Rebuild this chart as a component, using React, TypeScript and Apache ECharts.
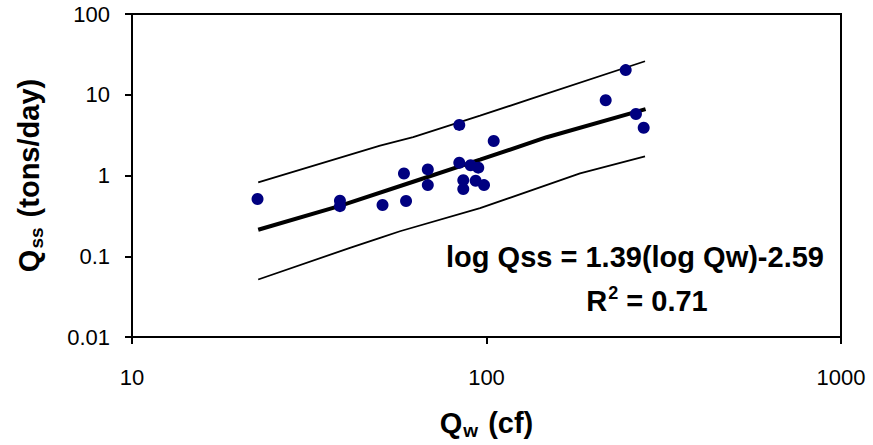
import React, { useEffect, useRef } from "react";
import * as echarts from "echarts";

// Observed data (Qw in cf, Qss in tons/day)
const qw = [22.6, 38.6, 38.6, 50.9, 58.5, 59.3, 68.3, 68.3, 83.8, 83.8, 86.0, 86.0, 90.2, 94.8, 93.2, 98.4, 104.8, 216.9, 247, 264, 277.6];
const qss = [0.512, 0.487, 0.417, 0.432, 1.06, 0.484, 1.19, 0.76, 4.23, 1.44, 0.876, 0.679, 1.34, 1.25, 0.861, 0.76, 2.67, 8.56, 20.2, 5.77, 3.91];

// Fitted line
const fitQw = [22.7, 38.6, 62.1, 95.9, 147.9, 281];
const fitQss = [0.213, 0.42, 0.837, 1.57, 2.98, 6.64];

// Upper bound
const upQw = [22.7, 50.1, 62.1, 95.9, 132.7, 280];
const upQss = [0.82, 2.35, 2.98, 5.5, 8.81, 26.0];

// Lower bound
const loQw = [22.7, 41.2, 50.1, 57.0, 95.9, 183.6, 280];
const loQss = [0.0515, 0.127, 0.169, 0.204, 0.394, 1.06, 1.73];

const xTickLabels = ["10", "100", "1000"];
const yTickLabels = ["0.01", "0.1", "1", "10", "100"];

const FONT = "'Liberation Sans', Arial, sans-serif";

export default function App() {
  const ref = useRef<HTMLDivElement>(null);
  useEffect(() => {
    if (!ref.current) return;
    const chart = echarts.init(ref.current, undefined, { renderer: "svg" });
    const zip = (a: number[], b: number[]) => a.map((v, i) => [v, b[i]]);
    const titleRich = {
      a: { fontFamily: FONT, fontSize: 29, fontWeight: "bold", color: "#000", lineHeight: 34 },
      b: { fontFamily: FONT, fontSize: 19, fontWeight: "bold", color: "#000", verticalAlign: "bottom", padding: [0, 2, 0, 1] },
    };
    chart.setOption({
      animation: false,
      backgroundColor: "#fff",
      grid: {
        left: 132,
        right: 32,
        top: 14,
        bottom: 105,
        show: true,
        borderColor: "#000",
        borderWidth: 2,
      },
      xAxis: {
        type: "log",
        logBase: 10,
        min: 10,
        max: 1000,
        name: "{a|Q}{b|w}{a| (cf)}",
        nameLocation: "middle",
        nameGap: 69,
        nameTextStyle: { rich: titleRich },
        axisLine: { show: true, lineStyle: { color: "#000", width: 2 } },
        axisTick: { show: true, length: 7, lineStyle: { color: "#000", width: 2 } },
        axisLabel: {
          margin: 29,
          fontFamily: FONT,
          fontSize: 22,
          color: "#000",
          formatter: (v: number) => xTickLabels[Math.round(Math.log10(v)) - 1] ?? "",
        },
        splitLine: { show: false },
        minorTick: { show: false },
      },
      yAxis: {
        type: "log",
        logBase: 10,
        min: 0.01,
        max: 100,
        name: "{a|Q}{b|ss}{a| (tons/day)}",
        nameLocation: "middle",
        nameGap: 86,
        nameRotate: 90,
        nameTextStyle: { rich: titleRich },
        axisLine: { show: true, lineStyle: { color: "#000", width: 2 } },
        axisTick: { show: true, length: 7, lineStyle: { color: "#000", width: 2 } },
        axisLabel: {
          margin: 22,
          fontFamily: FONT,
          fontSize: 22,
          color: "#000",
          formatter: (v: number) => yTickLabels[Math.round(Math.log10(v)) + 2] ?? "",
        },
        splitLine: { show: false },
      },
      graphic: [
        {
          type: "text",
          x: 635,
          y: 257,
          style: {
            text: "log Qss = 1.39(log Qw)-2.59",
            font: `bold 29px ${FONT}`,
            fill: "#000",
            align: "center",
            verticalAlign: "middle",
          },
        },
        {
          type: "text",
          x: 647,
          y: 301,
          style: {
            text: "{r|R}{s|2}{r| = 0.71}",
            fill: "#000",
            align: "center",
            verticalAlign: "middle",
            rich: {
              r: { font: `bold 29px ${FONT}`, fill: "#000", lineHeight: 34 },
              s: { font: `bold 18px ${FONT}`, fill: "#000", verticalAlign: "top", padding: [0, 0, 0, 1] },
            },
          },
        },
      ],
      series: [
        {
          type: "line",
          data: zip(upQw, upQss),
          showSymbol: false,
          lineStyle: { color: "#000", width: 1.8 },
          z: 2,
        },
        {
          type: "line",
          data: zip(loQw, loQss),
          showSymbol: false,
          lineStyle: { color: "#000", width: 1.8 },
          z: 2,
        },
        {
          type: "line",
          data: zip(fitQw, fitQss),
          showSymbol: false,
          lineStyle: { color: "#000", width: 4 },
          z: 3,
        },
        {
          type: "scatter",
          data: zip(qw, qss),
          symbol: "circle",
          symbolSize: 12,
          itemStyle: { color: "#000080", opacity: 1 },
          z: 4,
        },
      ],
    });
    return () => chart.dispose();
  }, []);
  return (
    <div
      ref={ref}
      style={{ position: "fixed", left: 0, top: 0, width: 873, height: 445, background: "#fff" }}
    />
  );
}
